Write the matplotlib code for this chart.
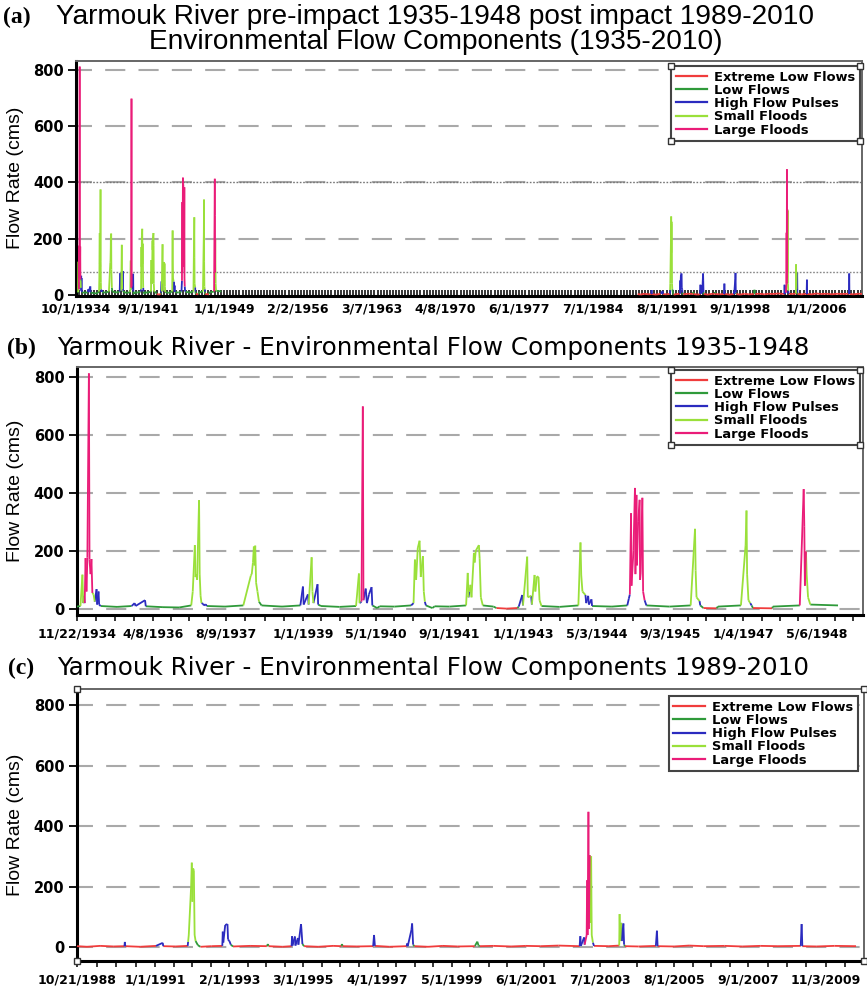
import numpy as np
import pandas as pd
import matplotlib
matplotlib.use('Agg')
import matplotlib.pyplot as plt
import matplotlib.dates as mdates
from matplotlib.collections import LineCollection
from matplotlib.lines import Line2D
from matplotlib.font_manager import FontProperties

plt.rcParams['font.family'] = ['DejaVu Sans']
plt.rcParams['lines.scale_dashes'] = False

# ---------------- data ----------------
components = ['Extreme Low Flows', 'Low Flows', 'High Flow Pulses', 'Small Floods', 'Large Floods']
comp_codes = ['E', 'L', 'H', 'S', 'F']
comp_colors = ['#f03c3c', '#2f9a3a', '#2b2bbf', '#9ae03a', '#ea1c78']

# pre-impact record (1934-1948): date, flow (cms), component code
pre_dates = ['1934-11-22', '1934-12-15', '1934-12-28', '1935-01-02', '1935-01-08', '1935-01-12',
             '1935-01-18', '1935-01-24', '1935-01-30', '1935-02-09', '1935-02-13', '1935-02-20',
             '1935-02-26', '1935-03-04', '1935-03-12', '1935-03-20', '1935-04-01', '1935-04-05',
             '1935-04-14', '1935-04-18', '1935-04-28', '1935-08-15', '1935-11-20', '1935-12-10',
             '1935-12-16', '1936-02-17', '1936-02-22', '1936-06-15', '1936-10-01', '1936-12-20',
             '1936-12-30', '1937-01-13', '1937-01-17', '1937-01-22', '1937-01-28', '1937-02-10',
             '1937-02-14', '1937-02-20', '1937-02-26', '1937-03-08', '1937-03-14', '1937-03-26',
             '1937-04-02', '1937-08-01', '1937-12-01', '1938-01-20', '1938-01-26', '1938-02-03',
             '1938-02-09', '1938-02-13', '1938-02-18', '1938-02-24', '1938-03-05', '1938-03-15',
             '1938-04-01', '1938-08-15', '1938-12-15', '1939-01-01', '1939-01-06', '1939-02-03',
             '1939-02-08', '1939-02-28', '1939-03-05', '1939-03-12', '1939-04-08', '1939-04-12',
             '1939-05-01', '1939-09-01', '1939-12-20', '1940-01-08', '1940-01-12', '1940-01-25',
             '1940-02-03', '1940-02-07', '1940-02-22', '1940-03-01', '1940-03-15', '1940-04-01',
             '1940-04-06', '1940-05-08', '1940-05-25', '1940-09-01', '1940-12-20', '1941-01-05',
             '1941-01-14', '1941-01-22', '1941-02-02', '1941-02-14', '1941-02-22', '1941-03-08',
             '1941-03-14', '1941-03-21', '1941-03-28', '1941-05-10', '1941-05-25', '1941-09-01',
             '1941-12-20', '1941-12-31', '1942-01-05', '1942-01-12', '1942-01-18', '1942-01-25',
             '1942-02-10', '1942-02-15', '1942-02-22', '1942-03-15', '1942-03-20', '1942-03-28',
             '1942-04-10', '1942-06-20', '1942-07-10', '1942-09-15', '1942-11-25', '1942-12-05',
             '1942-12-28', '1943-01-02', '1943-01-30', '1943-02-03', '1943-02-25', '1943-03-02',
             '1943-03-20', '1943-03-25', '1943-04-05', '1943-04-15', '1943-04-22', '1943-05-05',
             '1943-09-01', '1944-01-05', '1944-01-19', '1944-01-24', '1944-02-01', '1944-02-21',
             '1944-02-26', '1944-03-10', '1944-03-15', '1944-04-01', '1944-04-05', '1944-08-15',
             '1944-11-25', '1944-12-05', '1944-12-12', '1944-12-20', '1944-12-23', '1945-01-05',
             '1945-01-15', '1945-01-18', '1945-01-25', '1945-01-28', '1945-02-05', '1945-02-15',
             '1945-02-18', '1945-02-22', '1945-03-05', '1945-03-10', '1945-03-20', '1945-04-01',
             '1945-09-01', '1946-01-20', '1946-02-18', '1946-02-22', '1946-02-28', '1946-03-20',
             '1946-03-25', '1946-04-15', '1946-07-10', '1946-07-20', '1946-12-20', '1947-01-20',
             '1947-01-26', '1947-01-30', '1947-02-08', '1947-02-20', '1947-03-01', '1947-03-10',
             '1947-07-15', '1947-07-20', '1948-01-15', '1948-02-10', '1948-02-14', '1948-02-18',
             '1948-02-25', '1948-03-01', '1948-03-10', '1948-03-25', '1948-09-25']
pre_flows = [8, 10, 118, 20, 45, 20,
             175, 60, 178, 812, 170, 120,
             172, 55, 50, 25, 68, 15,
             60, 15, 10, 7, 10, 20,
             10, 30, 9, 6, 5, 12,
             60, 220, 110, 120, 100, 375,
             120, 45, 20, 18, 12, 16,
             10, 8, 12, 115, 120, 160,
             215, 150, 218, 90, 60, 25,
             12, 8, 12, 77, 15, 50,
             15, 178, 60, 20, 85, 15,
             10, 7, 10, 122, 20, 25,
             698, 30, 70, 20, 50, 75,
             12, 3, 9, 8, 12, 20,
             170, 100, 210, 235, 110, 182,
             60, 25, 12, 3, 9, 8,
             12, 124, 40, 60, 83, 40,
             193, 160, 200, 220, 175, 40,
             12, 8, 3, 1, 3, 8,
             48, 12, 180, 40, 45, 15,
             117, 60, 112, 110, 30, 10,
             7, 12, 229, 117, 60, 48,
             20, 45, 15, 33, 10, 8,
             12, 35, 50, 330, 80, 200,
             417, 120, 393, 150, 300, 376,
             100, 124, 383, 60, 30, 12,
             8, 12, 276, 133, 40, 27,
             12, 3, 2, 8, 12, 220,
             339, 120, 30, 20, 12, 3,
             2, 8, 12, 413, 283, 80,
             198, 117, 40, 15, 12]
pre_codes = ['L', 'L', 'S', 'L', 'H', 'H',
             'F', 'F', 'F', 'F', 'F', 'F',
             'F', 'S', 'S', 'H', 'H', 'H',
             'H', 'H', 'L', 'L', 'L', 'H',
             'L', 'H', 'L', 'L', 'L', 'L',
             'S', 'S', 'S', 'S', 'S', 'S',
             'S', 'S', 'L', 'H', 'L', 'H',
             'L', 'L', 'L', 'S', 'S', 'S',
             'S', 'S', 'S', 'S', 'S', 'L',
             'L', 'L', 'L', 'H', 'L', 'H',
             'L', 'S', 'S', 'L', 'H', 'L',
             'L', 'L', 'L', 'S', 'L', 'H',
             'F', 'H', 'H', 'H', 'H', 'H',
             'L', 'E', 'L', 'L', 'L', 'H',
             'S', 'S', 'S', 'S', 'S', 'S',
             'S', 'H', 'L', 'E', 'L', 'L',
             'L', 'S', 'H', 'H', 'S', 'S',
             'S', 'S', 'S', 'S', 'S', 'S',
             'L', 'L', 'E', 'E', 'E', 'L',
             'H', 'L', 'S', 'S', 'H', 'L',
             'S', 'S', 'S', 'S', 'S', 'L',
             'L', 'L', 'S', 'S', 'S', 'H',
             'H', 'H', 'L', 'H', 'L', 'L',
             'L', 'H', 'H', 'F', 'F', 'F',
             'F', 'F', 'F', 'F', 'F', 'F',
             'F', 'S', 'F', 'F', 'H', 'L',
             'L', 'L', 'S', 'S', 'S', 'H',
             'L', 'E', 'E', 'L', 'L', 'S',
             'S', 'S', 'S', 'H', 'L', 'E',
             'E', 'L', 'L', 'F', 'F', 'F',
             'S', 'S', 'S', 'L', 'L']

# post-impact record (1988-2010)
post_dates = ['1988-10-21', '1989-02-01', '1989-06-15', '1989-11-01', '1990-02-20', '1990-02-24',
              '1990-02-28', '1990-08-01', '1991-01-10', '1991-03-20', '1991-03-25', '1991-08-01',
              '1991-12-01', '1991-12-05', '1991-12-12', '1992-01-05', '1992-01-12', '1992-01-18',
              '1992-01-25', '1992-02-02', '1992-02-10', '1992-02-20', '1992-03-15', '1992-04-10',
              '1992-08-01', '1992-11-20', '1992-11-25', '1992-11-30', '1992-12-20', '1993-01-12',
              '1993-01-18', '1993-02-01', '1993-02-15', '1993-03-10', '1993-09-01', '1994-02-20',
              '1994-03-03', '1994-03-10', '1994-08-01', '1994-11-01', '1994-11-06', '1994-11-10',
              '1994-12-05', '1994-12-10', '1995-01-05', '1995-01-10', '1995-02-06', '1995-02-12',
              '1995-02-20', '1995-03-10', '1995-08-01', '1996-01-01', '1996-03-25', '1996-04-01',
              '1996-04-08', '1996-09-01', '1997-02-15', '1997-02-24', '1997-03-05', '1997-08-01',
              '1998-01-25', '1998-01-30', '1998-02-05', '1998-03-15', '1998-03-22', '1998-04-01',
              '1998-04-15', '1998-09-01', '1999-02-01', '1999-07-01', '1999-12-25', '2000-01-20',
              '2000-02-01', '2000-02-15', '2000-07-01', '2001-01-01', '2001-06-01', '2001-11-01',
              '2002-05-01', '2002-12-05', '2002-12-12', '2002-12-18', '2003-01-20', '2003-01-25',
              '2003-02-15', '2003-02-20', '2003-02-25', '2003-03-05', '2003-03-10', '2003-03-18',
              '2003-03-22', '2003-04-02', '2003-04-08', '2003-04-20', '2003-05-01', '2003-10-01',
              '2004-01-15', '2004-01-19', '2004-01-25', '2004-02-05', '2004-02-10', '2004-02-27',
              '2004-03-05', '2004-03-15', '2004-08-01', '2005-01-25', '2005-02-05', '2005-02-12',
              '2005-08-01', '2006-01-01', '2006-06-01', '2007-01-01', '2007-07-01', '2008-01-01',
              '2008-07-01', '2009-02-20', '2009-03-01', '2009-03-08', '2009-08-01', '2010-02-01',
              '2010-09-10']
post_flows = [3, 1, 4, 2, 3, 17,
              3, 1, 4, 14, 3, 2,
              4, 17, 40, 200, 279, 150,
              260, 254, 40, 20, 6, 1,
              3, 4, 51, 15, 73, 76,
              25, 20, 8, 2, 4, 3,
              10, 3, 1, 3, 36, 5,
              35, 5, 30, 8, 76, 50,
              10, 3, 1, 4, 3, 10,
              3, 2, 3, 40, 4, 1,
              3, 12, 3, 57, 78, 8,
              3, 1, 4, 2, 3, 18,
              5, 3, 4, 2, 4, 3,
              5, 3, 36, 4, 32, 8,
              40, 221, 40, 447, 60, 304,
              80, 300, 40, 15, 4, 3,
              5, 109, 20, 80, 20, 78,
              8, 3, 2, 4, 54, 3,
              2, 5, 3, 4, 2, 4,
              3, 4, 76, 3, 2, 4,
              3]
post_codes = ['E', 'E', 'E', 'E', 'E', 'H',
              'E', 'E', 'E', 'H', 'E', 'E',
              'E', 'H', 'S', 'S', 'S', 'S',
              'S', 'S', 'S', 'L', 'L', 'E',
              'E', 'E', 'H', 'H', 'H', 'H',
              'H', 'H', 'L', 'E', 'E', 'E',
              'L', 'E', 'E', 'E', 'H', 'H',
              'H', 'H', 'H', 'H', 'H', 'H',
              'L', 'E', 'E', 'E', 'E', 'L',
              'E', 'E', 'E', 'H', 'E', 'E',
              'E', 'H', 'E', 'H', 'H', 'L',
              'E', 'E', 'E', 'E', 'E', 'L',
              'L', 'E', 'E', 'E', 'E', 'E',
              'E', 'E', 'H', 'E', 'H', 'H',
              'F', 'F', 'F', 'F', 'F', 'S',
              'S', 'S', 'S', 'H', 'E', 'E',
              'E', 'S', 'S', 'H', 'H', 'H',
              'L', 'E', 'E', 'E', 'H', 'E',
              'E', 'E', 'E', 'E', 'E', 'E',
              'E', 'E', 'H', 'E', 'E', 'E',
              'E']

yticks = [0, 200, 400, 600, 800]
ticks_a = ['10/1/1934', '9/1/1941', '1/1/1949', '2/2/1956', '3/7/1963', '4/8/1970',
           '6/1/1977', '7/1/1984', '8/1/1991', '9/1/1998', '1/1/2006']
ticks_b = ['11/22/1934', '4/8/1936', '8/9/1937', '1/1/1939', '5/1/1940', '9/1/1941',
           '1/1/1943', '5/3/1944', '9/3/1945', '1/4/1947', '5/6/1948']
ticks_c = ['10/21/1988', '1/1/1991', '2/1/1993', '3/1/1995', '4/1/1997', '5/1/1999',
           '6/1/2001', '7/1/2003', '8/1/2005', '9/1/2007', '11/3/2009']

# ---------------- figure ----------------
W, H = 867, 988
fig = plt.figure(figsize=(W / 100, H / 100), dpi=100)


def ax_rect(l, r, t, b):
    return [l / W, 1 - b / H, (r - l) / W, (b - t) / H]


def draw_series(ax, dates, flows, codes):
    x = mdates.date2num(pd.to_datetime(dates))
    y = np.asarray(flows, dtype=float)
    c = np.array([comp_codes.index(k) for k in codes])
    seg_c = np.maximum(c[:-1], c[1:])
    order = [1, 0, 2, 3, 4]
    for k in order:
        idx = np.where(seg_c == k)[0]
        segs = [[(x[i], y[i]), (x[i + 1], y[i + 1])] for i in idx]
        lc = LineCollection(segs, colors=comp_colors[k], linewidths=1.3,
                            zorder=3 + order.index(k), capstyle='butt')
        ax.add_collection(lc)


def style_axes(ax, xlim, ylim, ticklabels, nsub, tickdir, grid0=True):
    x0, x1 = mdates.date2num(pd.to_datetime(list(xlim)))
    for g in yticks:
        if g == 0 and not grid0:
            continue
        ax.axhline(g, color='#a9a9a9', lw=1.5, linestyle=(3, (14.5, 9.5)), zorder=1)
    tdates = pd.to_datetime(ticklabels, format='%m/%d/%Y')
    tnum = mdates.date2num(tdates)
    ax.set_xticks(tnum)
    ax.set_xticklabels(ticklabels, fontsize=9, fontweight='bold')
    minor = []
    ext = list(tnum) + [tnum[-1] + (tnum[-1] - tnum[-2])]
    for a, b in zip(ext[:-1], ext[1:]):
        minor.extend([m for m in np.linspace(a, b, nsub + 1)[1:-1] if x0 <= m <= x1])
    ax.set_xticks(minor, minor=True)
    ax.tick_params(axis='x', which='both', direction=tickdir, length=4, width=1.1,
                   pad=5, colors='black')
    ax.set_yticks(yticks)
    ax.set_yticklabels([str(v) for v in yticks], fontsize=10.5, fontweight='bold')
    ax.tick_params(axis='y', direction='out', length=6, width=1.3, pad=3)
    ax.set_xlim(x0, x1)
    ax.set_ylim(*ylim)
    for s in ['left', 'bottom']:
        ax.spines[s].set_linewidth(2.2)
        ax.spines[s].set_color('black')
    for s in ['top', 'right']:
        ax.spines[s].set_linewidth(1.4)
        ax.spines[s].set_color('#666666')


handles = [Line2D([], [], color=c, lw=1.6) for c in comp_colors]
leg_font = FontProperties(family='DejaVu Sans', weight='bold', size=9.4)


def add_legend(ax, anchor):
    leg = ax.legend(handles, components, loc='upper right', bbox_to_anchor=anchor,
                    borderaxespad=0, fancybox=False, framealpha=1, edgecolor='#444444',
                    prop=leg_font, labelspacing=0.02, handlelength=2.4,
                    handletextpad=0.55, borderpad=0.35)
    leg.get_frame().set_linewidth(1.5)
    leg.set_zorder(20)
    return leg


# ----- panel (a)
axa = fig.add_axes(ax_rect(76, 862, 61, 296))
draw_series(axa, pre_dates, pre_flows, pre_codes)
draw_series(axa, post_dates, post_flows, post_codes)
axa.axhline(400, color='#777777', lw=1.0, linestyle=(0, (1.2, 1.2)), zorder=1.5)
axa.axhline(80, color='#888888', lw=1.0, linestyle=(0, (1.2, 1.2)), zorder=1.5)
style_axes(axa, ('1934-10-01', '2010-05-25'), (-4, 832), ticks_a, 24, 'in', grid0=False)
leg_a = add_legend(axa, (0.9975, 0.979))

# ----- panel (b)
axb = fig.add_axes(ax_rect(77, 863, 367, 615))
draw_series(axb, pre_dates, pre_flows, pre_codes)
style_axes(axb, ('1934-11-22', '1949-03-10'), (-21, 834), ticks_b, 4, 'out')
leg_b = add_legend(axb, (0.996, 0.988))

# ----- panel (c)
axc = fig.add_axes(ax_rect(77, 864, 689, 961))
draw_series(axc, post_dates, post_flows, post_codes)
style_axes(axc, ('1988-10-21', '2010-12-01'), (-46, 853), ticks_c, 4, 'out')
leg_c = add_legend(axc, (0.992, 0.974))

for ax, yc in [(axa, 178), (axb, 491), (axc, 825)]:
    fig.text(16 / W, 1 - yc / H, 'Flow Rate (cms)', rotation=90, ha='center', va='center',
             family='Liberation Sans', fontsize=14)

# titles
fig.text(3 / W, 1 - 17 / H, '(a)', family='Liberation Serif', fontweight='bold',
         fontsize=17, ha='left', va='center')
fig.text(435 / W, 1 - 17 / H, 'Yarmouk River pre-impact 1935-1948 post impact 1989-2010',
         family='Liberation Sans', fontsize=20.2, ha='center', va='center')
fig.text(436 / W, 1 - 42 / H, 'Environmental Flow Components (1935-2010)',
         family='Liberation Sans', fontsize=20.2, ha='center', va='center')
fig.text(7 / W, 1 - 348 / H, '(b)', family='Liberation Serif', fontweight='bold',
         fontsize=17, ha='left', va='center')
fig.text(57 / W, 1 - 348 / H, 'Yarmouk River - Environmental Flow Components 1935-1948',
         fontsize=17.7, ha='left', va='center')
fig.text(8 / W, 1 - 668 / H, '(c)', family='Liberation Serif', fontweight='bold',
         fontsize=17, ha='left', va='center')
fig.text(57 / W, 1 - 668 / H, 'Yarmouk River - Environmental Flow Components 1989-2010',
         fontsize=17.7, ha='left', va='center')

# selection handles (small squares) at legend / axes corners
fig.canvas.draw()
inv = fig.transFigure.inverted()


def corner_marks(x0, y0, x1, y1):
    for (px, py) in [(x0, y0), (x0, y1), (x1, y0), (x1, y1)]:
        fig.add_artist(Line2D([px], [py], marker='s', markersize=5, markerfacecolor='white',
                              markeredgecolor='#333333', markeredgewidth=1.0,
                              transform=fig.transFigure, zorder=30))


for leg in [leg_a, leg_b]:
    bb = leg.get_frame().get_window_extent()
    (fx0, fy0), (fx1, fy1) = inv.transform([[bb.x0, bb.y0], [bb.x1, bb.y1]])
    corner_marks(fx0, fy0, fx1, fy1)
pc = axc.get_position()
corner_marks(pc.x0, pc.y0, pc.x1, pc.y1)

fig.savefig('out.png', dpi=100)
